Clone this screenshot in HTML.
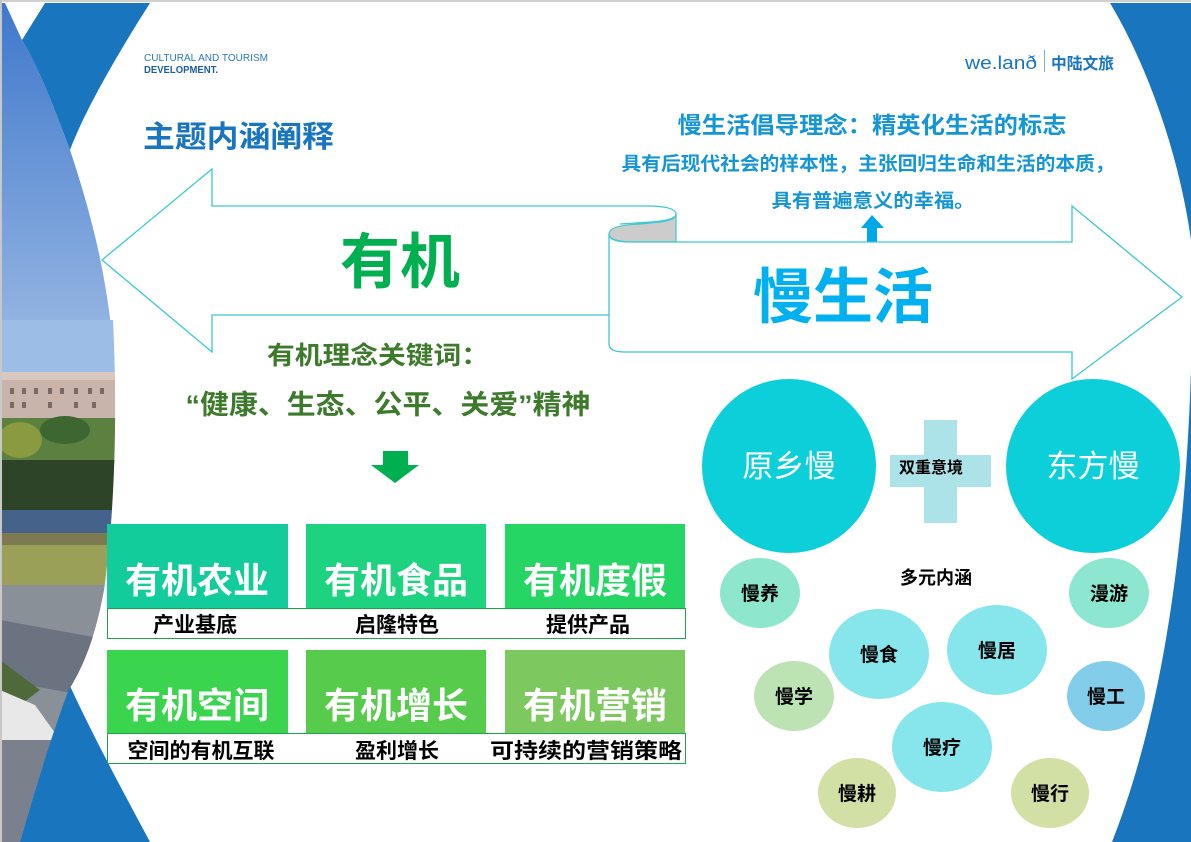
<!DOCTYPE html>
<html><head><meta charset="utf-8"><style>
html,body{margin:0;padding:0;background:#fff}
svg{display:block}
text{font-family:"Liberation Sans","Noto Sans CJK SC",sans-serif}
</style></head><body>
<svg width="1191" height="842" viewBox="0 0 1191 842" xmlns="http://www.w3.org/2000/svg">
<defs>
<linearGradient id="lb" x1="0" y1="0" x2="0" y2="1">
<stop offset="0" stop-color="#3f78cc"/><stop offset="1" stop-color="#98b7e2"/></linearGradient>
<clipPath id="ph"><path d="M0,320 L113,320 C118,420 114,520 104,590 C95,640 82,668 70,688 C50,740 35,790 20,842 L0,842 Z"/></clipPath>
</defs>
<rect x="0" y="0" width="1191" height="842" fill="#fff"/>
<rect x="0" y="0" width="1191" height="2" fill="#d0d0d0"/>
<!-- left decorations -->
<path d="M0,3 L5,3 L22,40 C40,70 55,110 70,150 C90,210 106,270 113,345 L0,345 Z" fill="url(#lb)"/>
<path d="M45,3 L150,3 C120,50 85,110 70,150 C55,110 40,70 22,40 Z" fill="#1a75bf"/>
<g clip-path="url(#ph)">
<rect x="0" y="320" width="130" height="52" fill="#9cbde6"/>
<rect x="0" y="372" width="130" height="48" fill="#c8b4aa"/>
<rect x="0" y="372" width="130" height="8" fill="#d8c8c0"/>
<g fill="#7a6a66"><rect x="10" y="388" width="4" height="6"/><rect x="22" y="388" width="4" height="6"/><rect x="34" y="388" width="4" height="6"/><rect x="48" y="388" width="4" height="6"/><rect x="60" y="388" width="4" height="6"/><rect x="74" y="388" width="4" height="6"/><rect x="88" y="388" width="4" height="6"/><rect x="100" y="388" width="4" height="6"/><rect x="10" y="402" width="4" height="6"/><rect x="22" y="402" width="4" height="6"/><rect x="48" y="402" width="4" height="6"/><rect x="74" y="402" width="4" height="6"/><rect x="92" y="402" width="4" height="6"/></g>
<rect x="0" y="418" width="130" height="45" fill="#5c8040"/>
<ellipse cx="65" cy="430" rx="25" ry="14" fill="#3d6630"/>
<ellipse cx="20" cy="440" rx="22" ry="18" fill="#8a9a40"/>
<rect x="0" y="460" width="130" height="50" fill="#2e4428"/>
<rect x="0" y="510" width="130" height="26" fill="#44628a"/>
<rect x="0" y="533" width="130" height="14" fill="#7d7a50"/>
<rect x="0" y="545" width="130" height="42" fill="#9aa058"/>
<rect x="0" y="585" width="130" height="260" fill="#8a9098"/>
<path d="M0,620 L110,640 L110,700 L0,680 Z" fill="#6b7380"/>
<path d="M0,660 L40,690 L0,720 Z" fill="#4f6a3a"/>
<path d="M0,690 L35,705 L60,740 L0,740 Z" fill="#e8e8e8"/>
<rect x="0" y="740" width="130" height="110" fill="#7a808c"/>
</g>
<path d="M70,686 C95,740 125,795 150,842 L20,842 C35,790 50,740 70,686 Z" fill="#1a75bf"/>
<rect x="0" y="0" width="2" height="842" fill="#c8c8c8"/>
<!-- right decorations -->
<path d="M1110,3 L1191,3 L1191,240 C1180,160 1150,70 1110,3 Z" fill="#1a75bf"/>
<path d="M1191,370 C1185,560 1160,720 1112,842 L1191,842 Z" fill="#1a75bf"/>
<!-- header -->
<text x="144" y="61" font-size="10.5" fill="#2a7ab8" textLength="124" lengthAdjust="spacingAndGlyphs">CULTURAL AND TOURISM</text>
<text x="144" y="73" font-size="10.5" font-weight="bold" fill="#1d5e9a" textLength="74" lengthAdjust="spacingAndGlyphs">DEVELOPMENT.</text>
<text x="143" y="147" font-size="30" font-weight="bold" fill="#1a75bf" textLength="191" lengthAdjust="spacingAndGlyphs">主题内涵阐释</text>
<text x="965" y="69" font-size="18" fill="#1a75bf" textLength="72" lengthAdjust="spacingAndGlyphs">we.lanð</text>
<rect x="1044" y="50" width="1" height="22" fill="#7aaed8"/>
<text x="1051" y="69" font-size="16" font-weight="bold" fill="#1a75bf" textLength="63" lengthAdjust="spacingAndGlyphs">中陆文旅</text>
<text x="872" y="133" text-anchor="middle" font-size="23" font-weight="bold" fill="#1596d4" textLength="389" lengthAdjust="spacingAndGlyphs">慢生活倡导理念：精英化生活的标志</text>
<text x="868" y="170" text-anchor="middle" font-size="19" font-weight="bold" fill="#1596d4" textLength="493" lengthAdjust="spacingAndGlyphs">具有后现代社会的样本性，主张回归生命和生活的本质，</text>
<text x="873" y="207" text-anchor="middle" font-size="19" font-weight="bold" fill="#1596d4" textLength="203" lengthAdjust="spacingAndGlyphs">具有普遍意义的幸福。</text>
<!-- up arrow -->
<path d="M861,228 L872,215 L884,228 L877,228 L877,242 L867,242 L867,228 Z" fill="#00a8e8"/>
<!-- left arrow -->
<path d="M652,206 L212,206 L212,169 L102,260 L212,352 L212,315 L609,315" fill="#fff" stroke="#3cc8d0" stroke-width="1.3"/>
<path d="M652,206 Q676,207 676,214 Q676,220 652,222 L620,224" fill="none" stroke="#3cc8d0" stroke-width="1.3"/>
<!-- gray curl -->
<path d="M609,234 Q609,225 640,224 L660,222 Q676,220 676,214 L676,242 L630,242 Q609,241 609,234 Z" fill="#cccccc" stroke="#3cc8d0" stroke-width="1.2"/>
<!-- right arrow -->
<path d="M609,234 Q609,242 630,242 L1072,242 L1072,206 L1182,297 L1072,379 L1072,352 L625,352 Q609,352 609,344 Z" fill="#fff" stroke="#3cc8d0" stroke-width="1.3"/>
<text x="400" y="283" text-anchor="middle" font-size="60" font-weight="bold" fill="#00b050">有机</text>
<text x="843" y="318" text-anchor="middle" font-size="60" font-weight="bold" fill="#00b0f0">慢生活</text>
<text x="378" y="364" text-anchor="middle" font-size="25" font-weight="bold" fill="#3d7a2b" textLength="222" lengthAdjust="spacingAndGlyphs">有机理念关键词：</text>
<text x="388" y="414" text-anchor="middle" font-size="27" font-weight="bold" fill="#3d7a2b" textLength="405" lengthAdjust="spacingAndGlyphs">“健康、生态、公平、关爱”精神</text>
<path d="M383,451 L408,451 L408,465 L419,465 L395,483 L371,465 L383,465 Z" fill="#00b050"/>
<!-- boxes -->
<rect x="107" y="524" width="181" height="85" fill="#12cc9c"/>
<rect x="306" y="524" width="180" height="85" fill="#1dd380"/>
<rect x="505" y="524" width="180" height="85" fill="#26d664"/>
<rect x="107.5" y="608.5" width="578" height="30" fill="#fff" stroke="#1aa64a" stroke-width="1"/>
<rect x="107" y="650" width="181" height="83" fill="#3ad44f"/>
<rect x="306" y="650" width="180" height="83" fill="#57cc4c"/>
<rect x="505" y="650" width="180" height="83" fill="#7ec860"/>
<rect x="107.5" y="733.5" width="578" height="30" fill="#fff" stroke="#1aa64a" stroke-width="1"/>
<g font-size="36" font-weight="bold" fill="#fff" text-anchor="middle">
<text x="197" y="593">有机农业</text><text x="396" y="593">有机食品</text><text x="595" y="593">有机度假</text>
<text x="197" y="718">有机空间</text><text x="396" y="718">有机增长</text><text x="595" y="718">有机营销</text>
</g>
<g font-size="21" font-weight="bold" fill="#000" text-anchor="middle">
<text x="195" y="632">产业基底</text><text x="397" y="632">启隆特色</text><text x="588" y="632">提供产品</text>
<text x="201" y="758">空间的有机互联</text><text x="397" y="758">盈利增长</text><text x="586" y="758" textLength="192" lengthAdjust="spacingAndGlyphs">可持续的营销策略</text>
</g>
<!-- bubbles -->
<rect x="924" y="420" width="33" height="103" fill="#abe3e8"/>
<rect x="890" y="455" width="101" height="32" fill="#abe3e8"/>
<circle cx="789" cy="466" r="87" fill="#0ccfd9"/>
<circle cx="1093" cy="466" r="87" fill="#0ccfd9"/>
<text x="789" y="477" text-anchor="middle" font-size="31" fill="#fff">原乡慢</text>
<text x="1093" y="477" text-anchor="middle" font-size="31" fill="#fff">东方慢</text>
<text x="931" y="473" text-anchor="middle" font-size="16" font-weight="bold" fill="#000">双重意境</text>
<text x="936" y="584" text-anchor="middle" font-size="18" font-weight="bold" fill="#000">多元内涵</text>
<ellipse cx="760" cy="593" rx="40" ry="35" fill="#8ee6cc"/>
<ellipse cx="1109" cy="593" rx="40" ry="35" fill="#8de6cf"/>
<ellipse cx="879" cy="654" rx="50" ry="45" fill="#86e6ec"/>
<ellipse cx="997" cy="650" rx="50" ry="45" fill="#86e6ec"/>
<ellipse cx="794" cy="696" rx="40" ry="35" fill="#bde3b4"/>
<ellipse cx="1106" cy="696" rx="39" ry="35" fill="#82cdea"/>
<ellipse cx="942" cy="747" rx="50" ry="45" fill="#86e6ec"/>
<ellipse cx="857" cy="793" rx="39" ry="35" fill="#d2e0a6"/>
<ellipse cx="1050" cy="793" rx="39" ry="35" fill="#d2e0a6"/>
<g font-size="19" font-weight="bold" fill="#000" text-anchor="middle">
<text x="760" y="600">慢养</text><text x="1109" y="600">漫游</text>
<text x="879" y="661">慢食</text><text x="997" y="657">慢居</text>
<text x="794" y="703">慢学</text><text x="1106" y="703">慢工</text>
<text x="942" y="754">慢疗</text>
<text x="857" y="800">慢耕</text><text x="1050" y="800">慢行</text>
</g>
</svg>
</body></html>
